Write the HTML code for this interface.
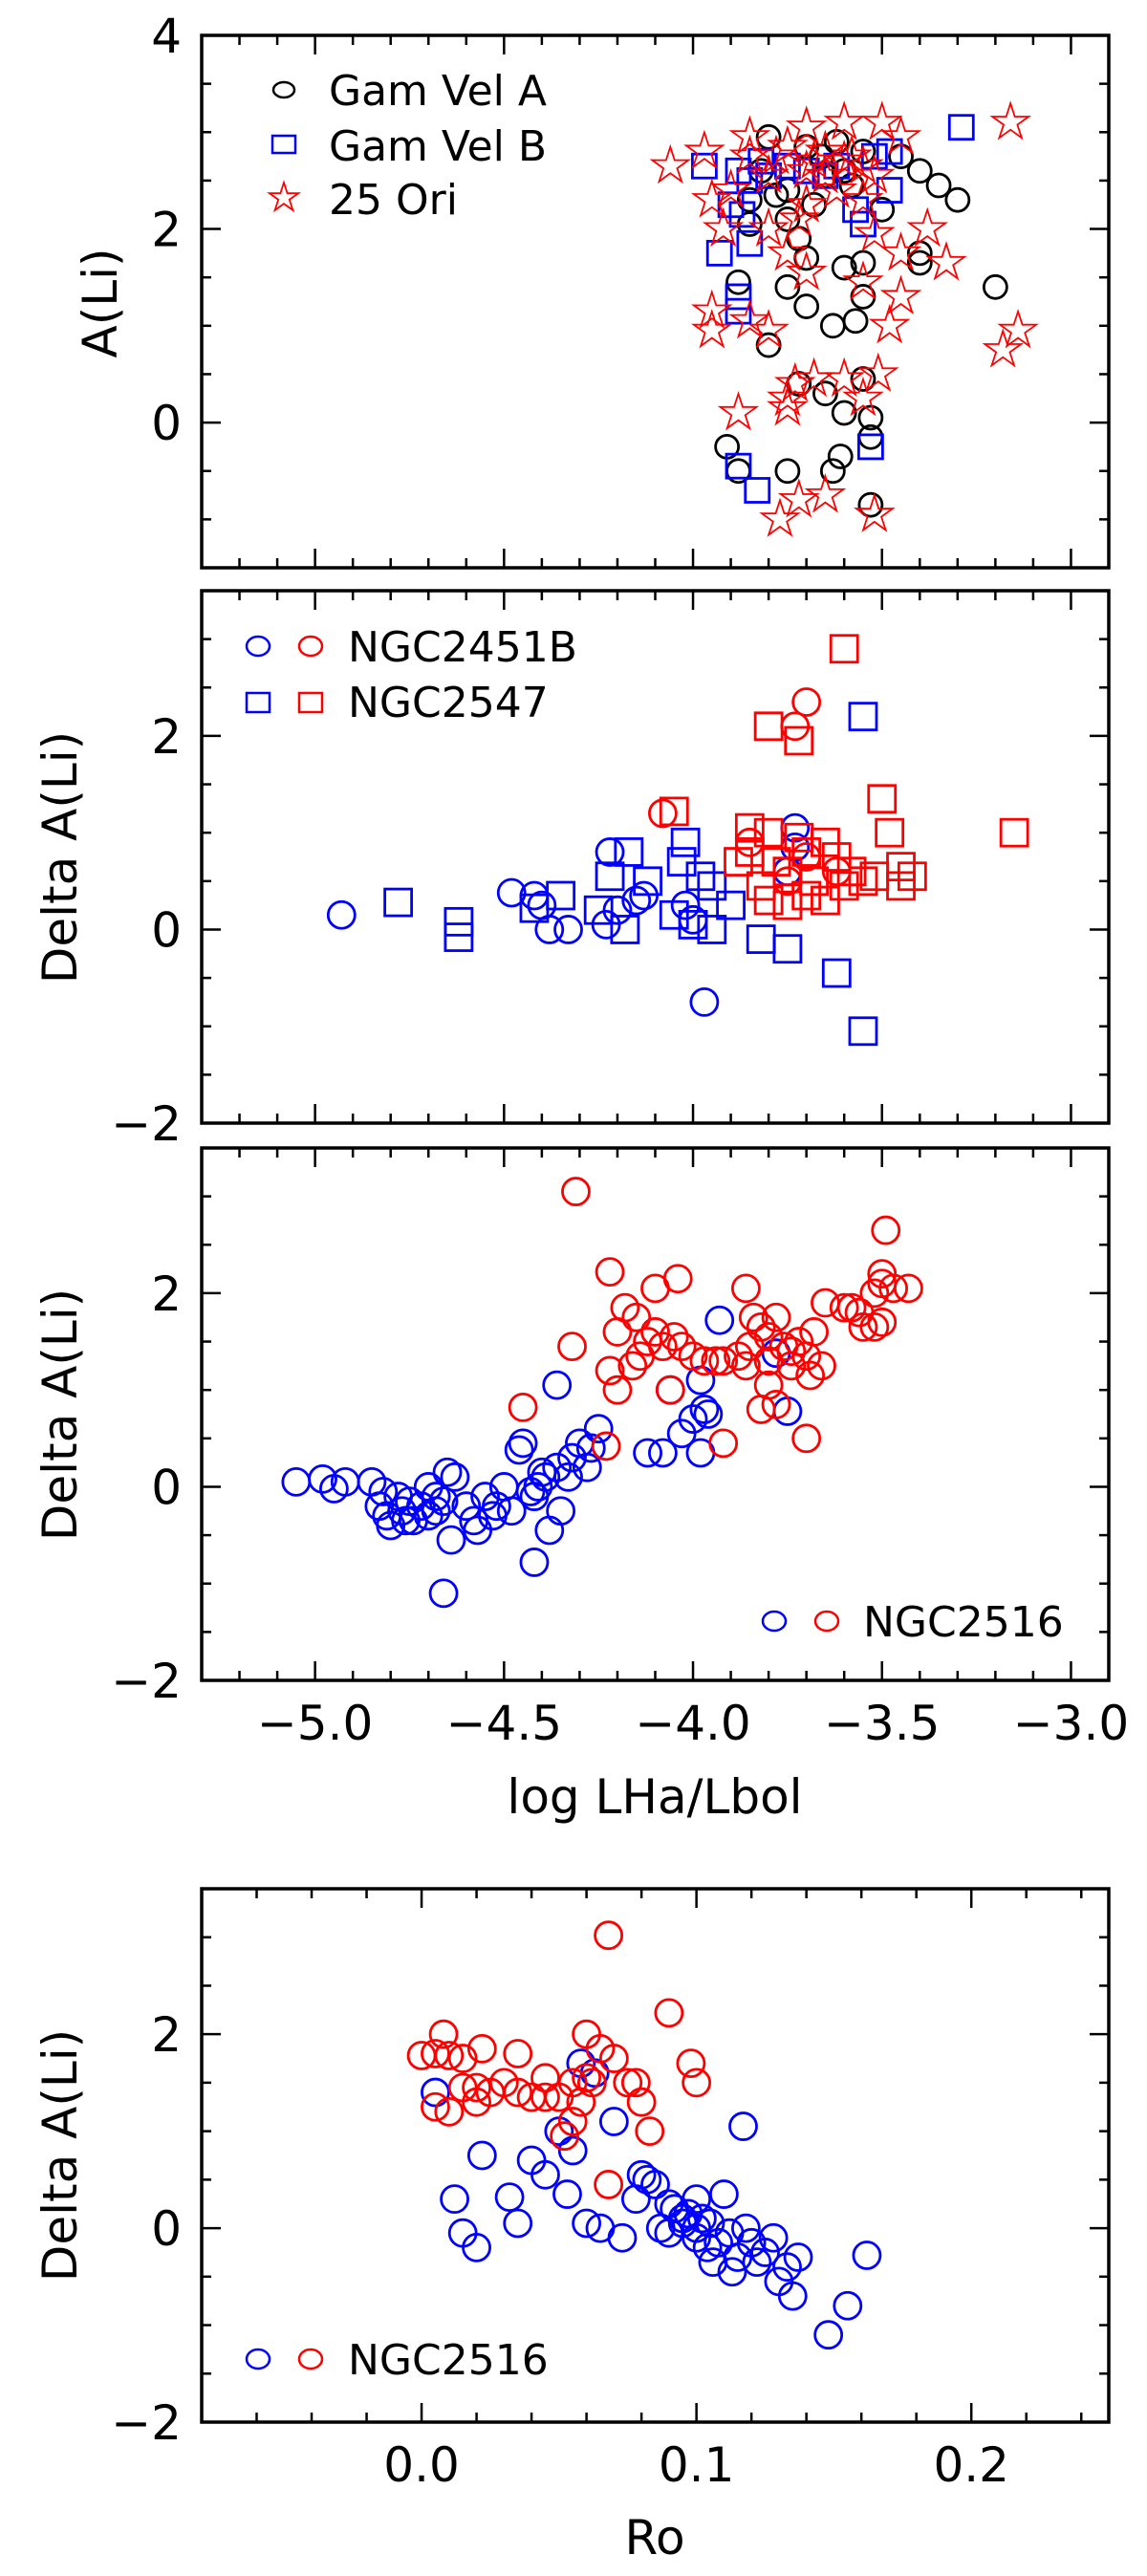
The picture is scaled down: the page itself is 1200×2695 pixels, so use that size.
<!DOCTYPE html>
<html><head><meta charset="utf-8"><style>
html,body{margin:0;padding:0;background:#fff}
svg{display:block}
text{font-family:"DejaVu Sans","Liberation Sans",sans-serif;fill:#000}
</style></head><body>
<svg id="fig" width="1200" height="2695" viewBox="0 0 1200 2695" xmlns="http://www.w3.org/2000/svg"></svg>
<script>
// ---- Panel 1: A(Li) vs log LHa/Lbol ----
const p1GamVelA_x = [-3.80,-3.70,-3.62,-3.55,-3.45,-3.40,-3.35,-3.30,-3.60,-3.65,-3.75,-3.85,-3.75,-3.72,-3.70,-3.60,-3.55,-3.40,-3.40,-3.20,-3.88,-3.75,-3.70,-3.55,-3.63,-3.57,-3.80,-3.72,-3.65,-3.55,-3.60,-3.53,-3.53,-3.91,-3.88,-3.75,-3.63,-3.61,-3.53,-3.85,-3.68,-3.50,-3.78,-3.58,-3.82,-3.66];
const p1GamVelA_y = [2.95,2.85,2.9,2.8,2.75,2.6,2.45,2.3,2.6,2.55,2.4,2.3,2.1,1.9,1.7,1.6,1.65,1.75,1.65,1.4,1.45,1.4,1.2,1.3,1.0,1.05,0.8,0.4,0.3,0.45,0.1,0.05,-0.15,-0.25,-0.5,-0.5,-0.5,-0.35,-0.85,2.05,2.25,2.2,2.35,2.45,2.6,2.75];
const p1GamVelB_x = [-3.97,-3.88,-3.85,-3.82,-3.75,-3.70,-3.62,-3.52,-3.48,-3.29,-3.90,-3.87,-3.48,-3.55,-3.57,-3.93,-3.85,-3.88,-3.88,-3.53,-3.88,-3.83,-3.80,-3.65];
const p1GamVelB_y = [2.65,2.6,2.5,2.7,2.65,2.6,2.65,2.75,2.8,3.05,2.25,2.15,2.4,2.05,2.2,1.75,1.85,1.3,1.15,-0.25,-0.45,-0.7,2.55,2.55];
const p1Ori_x = [-4.06,-3.97,-3.85,-3.70,-3.60,-3.50,-3.45,-3.16,-3.75,-3.65,-3.60,-3.55,-3.70,-3.80,-3.90,-3.95,-3.62,-3.70,-3.55,-3.92,-3.80,-3.72,-3.52,-3.38,-3.45,-3.75,-3.70,-3.55,-3.33,-3.95,-3.85,-3.45,-3.48,-3.14,-3.18,-3.95,-3.80,-3.73,-3.68,-3.60,-3.51,-3.75,-3.55,-3.88,-3.75,-3.72,-3.65,-3.52,-3.77,-3.65,-3.58,-3.68,-3.78,-3.52,-3.85];
const p1Ori_y = [2.65,2.8,2.95,3.05,3.1,3.1,2.95,3.1,2.85,2.8,2.7,2.65,2.6,2.55,2.4,2.3,2.4,2.25,2.3,2.0,2.0,2.1,1.95,2.0,1.75,1.75,1.55,1.45,1.65,1.15,1.05,1.3,1.0,0.95,0.75,0.95,0.95,0.4,0.45,0.45,0.5,0.25,0.25,0.1,0.15,-0.8,-0.75,-0.95,-1.0,2.55,2.75,2.7,2.75,2.55,2.75];
// ---- Panel 2 ----
const p2N2451Blue_x = [-4.93,-4.48,-4.42,-4.40,-4.38,-4.33,-4.22,-4.23,-4.15,-4.13,-4.20,-3.97,-3.73,-3.73,-3.75,-4.00,-4.02];
const p2N2451Blue_y = [0.15,0.38,0.35,0.25,0.0,0.0,0.8,0.05,0.3,0.35,0.2,-0.75,1.05,0.85,0.6,0.1,0.25];
const p2N2451Red_x = [-4.08,-3.85,-3.70,-3.73,-3.62,-3.70,-3.75];
const p2N2451Red_y = [1.2,0.9,2.35,2.1,0.6,0.75,0.5];
const p2N2547Blue_x = [-4.78,-4.62,-4.62,-4.42,-4.35,-4.25,-4.22,-4.18,-4.17,-4.12,-4.03,-4.02,-3.98,-3.95,-3.90,-3.95,-3.82,-3.75,-3.62,-3.55,-3.55,-4.00,-4.05];
const p2N2547Blue_y = [0.28,0.08,-0.08,0.22,0.35,0.2,0.55,0.0,0.8,0.5,0.7,0.9,0.55,0.45,0.25,0.0,-0.1,-0.2,-0.45,2.2,-1.05,0.05,0.15];
const p2N2547Red_x = [-3.60,-3.80,-3.72,-4.05,-3.85,-3.80,-3.72,-3.65,-3.50,-3.48,-3.45,-3.45,-3.15,-3.88,-3.82,-3.75,-3.70,-3.65,-3.60,-3.55,-3.52,-3.42,-3.80,-3.70,-3.62,-3.58,-3.85,-3.78,-3.68,-3.75];
const p2N2547Red_y = [2.9,2.1,1.95,1.22,1.05,1.0,0.95,0.9,1.35,1.0,0.65,0.45,1.0,0.7,0.45,0.6,0.35,0.3,0.45,0.5,0.55,0.55,0.3,0.8,0.75,0.6,0.8,0.7,0.5,0.25];
// ---- Panel 3 ----
const p3Blue_x = [-5.05,-4.98,-4.95,-4.92,-4.85,-4.82,-4.83,-4.81,-4.80,-4.78,-4.77,-4.75,-4.74,-4.72,-4.70,-4.70,-4.68,-4.68,-4.66,-4.65,-4.63,-4.64,-4.60,-4.58,-4.57,-4.55,-4.53,-4.52,-4.50,-4.48,-4.46,-4.45,-4.43,-4.42,-4.41,-4.40,-4.39,-4.38,-4.42,-4.36,-4.35,-4.33,-4.32,-4.30,-4.28,-4.27,-4.25,-4.36,-4.12,-4.08,-4.06,-4.03,-4.00,-3.97,-3.96,-3.98,-3.98,-3.93,-3.78,-3.75,-4.66,-4.76];
const p3Blue_y = [0.05,0.08,-0.02,0.05,0.05,-0.05,-0.2,-0.3,-0.4,-0.1,-0.25,-0.15,-0.35,-0.2,-0.3,0.0,-0.1,-0.25,-0.15,0.15,0.1,-0.55,-0.2,-0.35,-0.45,-0.1,-0.3,-0.2,0.0,-0.25,0.38,0.45,-0.05,-0.1,0.0,0.15,0.1,-0.45,-0.78,0.2,-0.25,0.1,0.3,0.45,0.2,0.4,0.6,1.05,0.35,0.35,1.0,0.55,0.7,0.8,0.75,0.35,1.1,1.72,1.38,0.78,-1.1,-0.35];
const p3Red_x = [-4.31,-4.22,-4.10,-4.04,-3.86,-3.49,-4.18,-4.15,-4.20,-4.12,-4.10,-4.08,-4.14,-4.16,-4.22,-4.20,-4.06,-4.03,-4.00,-3.97,-3.94,-3.92,-3.88,-3.86,-3.84,-3.82,-3.80,-3.78,-3.76,-3.74,-3.72,-3.70,-3.68,-3.69,-3.66,-3.65,-3.60,-3.58,-3.56,-3.55,-3.52,-3.52,-3.50,-3.50,-3.47,-3.43,-3.50,-3.80,-3.82,-3.78,-3.70,-4.32,-4.45,-4.23,-3.92,-3.85,-3.80,-3.74,-4.05];
const p3Red_y = [3.05,2.22,2.05,2.15,2.05,2.65,1.85,1.75,1.6,1.5,1.6,1.45,1.35,1.25,1.2,1.0,1.0,1.45,1.35,1.3,1.3,1.3,1.35,1.25,1.75,1.65,1.55,1.75,1.45,1.4,1.5,1.35,1.6,1.15,1.25,1.9,1.85,1.85,1.8,1.65,1.65,2.0,2.1,2.2,2.05,2.05,1.7,1.05,0.8,0.85,0.5,1.45,0.82,0.42,0.45,1.45,1.3,1.25,1.55];
// ---- Panel 4: vs Ro ----
const p4Red_x = [0.000,0.005,0.010,0.008,0.015,0.022,0.035,0.005,0.010,0.015,0.020,0.025,0.030,0.035,0.040,0.045,0.050,0.055,0.060,0.060,0.062,0.058,0.055,0.052,0.065,0.070,0.075,0.080,0.078,0.083,0.090,0.098,0.100,0.068,0.068,0.020,0.045];
const p4Red_y = [1.78,1.80,1.78,2.0,1.75,1.85,1.8,1.25,1.2,1.45,1.45,1.4,1.5,1.4,1.35,1.55,1.35,1.5,2.0,1.55,1.5,1.3,1.1,0.95,1.85,1.75,1.5,1.3,1.5,1.0,2.22,1.7,1.5,3.02,0.45,1.3,1.35];
const p4Blue_x = [0.005,0.012,0.015,0.020,0.022,0.032,0.035,0.040,0.045,0.050,0.053,0.055,0.060,0.065,0.070,0.073,0.078,0.080,0.082,0.085,0.087,0.090,0.092,0.095,0.097,0.100,0.100,0.102,0.104,0.105,0.106,0.108,0.110,0.112,0.113,0.115,0.117,0.118,0.120,0.122,0.125,0.128,0.130,0.133,0.135,0.137,0.148,0.155,0.162,0.095,0.100,0.090,0.058,0.063];
const p4Blue_y = [1.4,0.3,-0.05,-0.2,0.75,0.32,0.05,0.7,0.55,1.0,0.35,0.8,0.05,0.0,1.1,-0.1,0.3,0.55,0.5,0.45,0.0,-0.05,0.2,0.1,0.15,0.0,0.3,0.1,-0.2,0.05,-0.35,-0.15,0.35,-0.05,-0.45,-0.3,1.05,0.0,-0.15,-0.35,-0.25,-0.1,-0.55,-0.4,-0.7,-0.3,-1.1,-0.8,-0.28,0.05,-0.1,0.25,1.7,1.6];

const NS='http://www.w3.org/2000/svg';
const svg=document.getElementById('fig');
function mk(tag,attrs,parent){const e=document.createElementNS(NS,tag);for(const k in attrs)e.setAttribute(k,attrs[k]);(parent||svg).appendChild(e);return e;}
const L=211,R=1160;
function scale(d0,d1,r0,r1){return v=>r0+(v-d0)/(d1-d0)*(r1-r0);}

function panel(name,top,bot,xd,yd,xMaj,xMin,yMaj,yMin,xLabels,yLabels){
  const g=mk('g',{});
  
  
  const sx=scale(xd[0],xd[1],L,R), sy=scale(yd[0],yd[1],bot,top);
  const ticks=mk('g',{stroke:'#000','stroke-width':2.5},g);
  
  
  const eps=1e-9;
  for(let v=Math.ceil(xd[0]/xMin-eps)*xMin; v<=xd[1]+eps; v+=xMin){
    const isMaj=Math.abs(v/xMaj-Math.round(v/xMaj))<1e-6; const len=isMaj?20:10; const x=sx(v);
    mk('line',{x1:x,x2:x,y1:bot,y2:bot-len},ticks); mk('line',{x1:x,x2:x,y1:top,y2:top+len},ticks);
    if(isMaj&&xLabels){const t=mk('text',{x:x,y:bot+62,'text-anchor':'middle','font-size':50},g);t.textContent=(v<0?'\u2212':'')+Math.abs(v).toFixed(1);
      }
  }
  for(let v=Math.ceil(yd[0]/yMin-eps)*yMin; v<=yd[1]+eps; v+=yMin){
    const isMaj=Math.abs(v/yMaj-Math.round(v/yMaj))<1e-6; const len=isMaj?20:10; const y=sy(v);
    mk('line',{x1:L,x2:L+len,y1:y,y2:y},ticks); mk('line',{x1:R,x2:R-len,y1:y,y2:y},ticks);
    if(isMaj){const t=mk('text',{x:190,y:y+18,'text-anchor':'end','font-size':50},g);const r=Math.round(v);t.textContent=(r<0?'\u2212':'')+Math.abs(r);
      }
  }
  const fr=mk('rect',{x:L,y:top,width:R-L,height:bot-top,fill:'none',stroke:'#000','stroke-width':3.5},g);
  
  return {g,sx,sy};
}
function circ(p,xs,ys,col,r,nm){const g=mk('g',{fill:'none',stroke:col,'stroke-width':2.8},p.g);
  
  xs.forEach((x,i)=>{const c=mk('circle',{cx:p.sx(x),cy:p.sy(ys[i]),r:r},g);
    });}
function sq(p,xs,ys,col,s,nm){const g=mk('g',{fill:'none',stroke:col,'stroke-width':2.8},p.g);
  
  xs.forEach((x,i)=>{const c=mk('rect',{x:p.sx(x)-s/2,y:p.sy(ys[i])-s/2,width:s,height:s},g);
    });}
function starPts(cx,cy,R){let pts=[];for(let k=0;k<10;k++){const a=-Math.PI/2+k*Math.PI/5;const rr=k%2?R*0.38:R;pts.push((cx+rr*Math.cos(a)).toFixed(1)+','+(cy+rr*Math.sin(a)).toFixed(1));}return pts.join(' ');}
function stars(p,xs,ys,col,R,nm){const g=mk('g',{fill:'none',stroke:col,'stroke-width':1.8},p.g);
  
  xs.forEach((x,i)=>{const c=mk('polygon',{points:starPts(p.sx(x),p.sy(ys[i]),R)},g);
    });}
function txt(s,x,y,fs,nm,extra){const t=mk('text',Object.assign({x:x,y:y,'font-size':fs},extra||{}));t.textContent=s;
  return t;}
function ylab(s,x,yc,nm){const t=txt(s,0,0,50,nm,{'text-anchor':'middle',transform:`translate(${x},${yc}) rotate(-90)`});}

// Panel 1
const P1=panel('panel-ali',37,594,[-5.30,-2.90],[-1.5,4],0.5,0.1,2,0.5,false);
circ(P1,p1GamVelA_x,p1GamVelA_y,'#000',12,'series-gam-vel-a');
sq(P1,p1GamVelB_x,p1GamVelB_y,'#0000ff',25,'series-gam-vel-b');
stars(P1,p1Ori_x,p1Ori_y,'#ff0000',20,'series-25-ori');
ylab('A(Li)',122,317,'y-axis-title-ali');
{const lg=mk('g',{});
 mk('ellipse',{cx:297,cy:94,rx:11,ry:8,fill:'none',stroke:'#000','stroke-width':2.5},lg);
 mk('rect',{x:285,y:142,width:24,height:18,fill:'none',stroke:'#0000ff','stroke-width':2.5},lg);
 mk('polygon',{points:starPts(297,207,16),fill:'none',stroke:'#ff0000','stroke-width':1.8},lg);
 txt('Gam Vel A',344,110,44,'legend-entry-gam-vel-a');
 txt('Gam Vel B',344,168,44,'legend-entry-gam-vel-b');
 txt('25 Ori',344,224,44,'legend-entry-25-ori');}

// Panel 2
const P2=panel('panel-delta-2451-2547',618,1175,[-5.30,-2.90],[-2,3.5],0.5,0.1,2,0.5,false);
circ(P2,p2N2451Blue_x,p2N2451Blue_y,'#0000ff',14,'series-ngc2451b-blue');
circ(P2,p2N2451Red_x,p2N2451Red_y,'#ff0000',14,'series-ngc2451b-red');
sq(P2,p2N2547Blue_x,p2N2547Blue_y,'#0000ff',28,'series-ngc2547-blue');
sq(P2,p2N2547Red_x,p2N2547Red_y,'#ff0000',28,'series-ngc2547-red');
ylab('Delta A(Li)',80,897,'y-axis-title-delta-2');
{const lg=mk('g',{fill:'none','stroke-width':2.5});
 mk('ellipse',{cx:270,cy:676,rx:12,ry:10,stroke:'#0000ff'},lg);
 mk('ellipse',{cx:325,cy:676,rx:12,ry:10,stroke:'#ff0000'},lg);
 mk('rect',{x:258,y:725,width:24,height:20,stroke:'#0000ff'},lg);
 mk('rect',{x:313,y:725,width:24,height:20,stroke:'#ff0000'},lg);
 txt('NGC2451B',364,692,44,'legend-entry-ngc2451b');
 txt('NGC2547',364,750,44,'legend-entry-ngc2547');}

// Panel 3
const P3=panel('panel-delta-2516-lha',1201,1758,[-5.30,-2.90],[-2,3.5],0.5,0.1,2,0.5,true);
circ(P3,p3Blue_x,p3Blue_y,'#0000ff',14,'series-ngc2516-blue');
circ(P3,p3Red_x,p3Red_y,'#ff0000',14,'series-ngc2516-red');
ylab('Delta A(Li)',80,1480,'y-axis-title-delta-3');
txt('log LHa/Lbol',685,1897,50,'x-axis-title-lha',{'text-anchor':'middle'});
{const lg=mk('g',{fill:'none','stroke-width':2.5});
 mk('ellipse',{cx:810,cy:1696,rx:12,ry:10,stroke:'#0000ff'},lg);
 mk('ellipse',{cx:865,cy:1696,rx:12,ry:10,stroke:'#ff0000'},lg);
 txt('NGC2516',903,1712,44,'legend-entry-ngc2516-3');}

// Panel 4
const P4=panel('panel-delta-2516-ro',1976,2534,[-0.08,0.25],[-2,3.5],0.1,0.02,2,0.5,true);
circ(P4,p4Blue_x,p4Blue_y,'#0000ff',14,'series-ngc2516-ro-blue');
circ(P4,p4Red_x,p4Red_y,'#ff0000',14,'series-ngc2516-ro-red');
ylab('Delta A(Li)',80,2255,'y-axis-title-delta-4');
txt('Ro',685,2672,50,'x-axis-title-ro',{'text-anchor':'middle'});
{const lg=mk('g',{fill:'none','stroke-width':2.5});
 mk('ellipse',{cx:270,cy:2468,rx:12,ry:10,stroke:'#0000ff'},lg);
 mk('ellipse',{cx:325,cy:2468,rx:12,ry:10,stroke:'#ff0000'},lg);
 txt('NGC2516',364,2484,44,'legend-entry-ngc2516-4');}
</script>
</body></html>
